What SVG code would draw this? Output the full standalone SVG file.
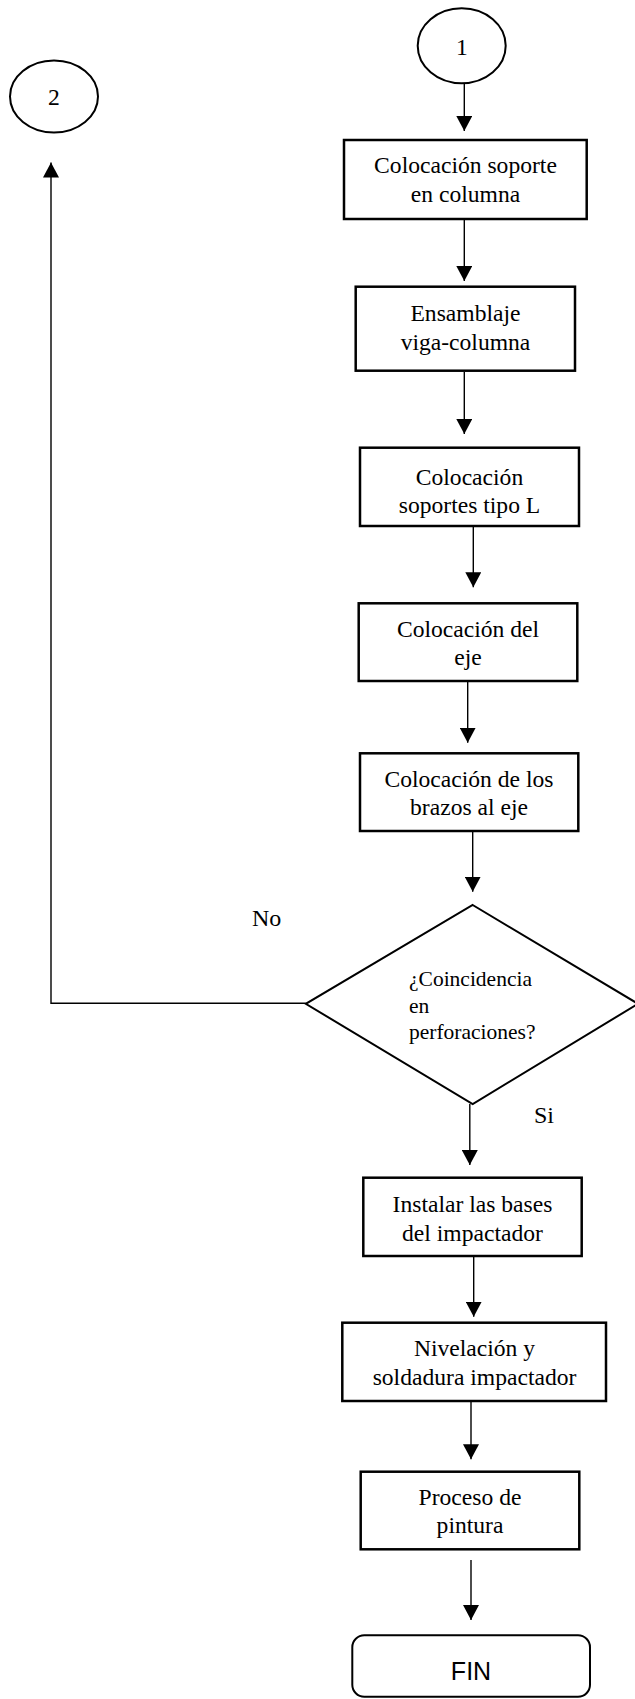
<svg xmlns="http://www.w3.org/2000/svg" width="635" height="1699" viewBox="0 0 635 1699">
  <style>
    .box { fill: #ffffff; stroke: #000000; stroke-width: 2.5; }
    .term { fill: #ffffff; stroke: #000000; stroke-width: 2; }
    .conn { fill: none; stroke: #000000; stroke-width: 1.4; }
    .t { font-family: "Liberation Serif", "Times New Roman", serif; font-size: 23.6px; fill: #000000; text-anchor: middle; }
    .q { font-family: "Liberation Serif", "Times New Roman", serif; font-size: 21.5px; fill: #000000; }
    .lbl { font-family: "Liberation Serif", "Times New Roman", serif; font-size: 24px; fill: #000000; }
    .fin { font-family: "Liberation Sans", Arial, sans-serif; font-size: 25px; fill: #000000; text-anchor: middle; }
  </style>
  <defs>
    <marker id="arrow" markerUnits="userSpaceOnUse" markerWidth="16" markerHeight="16" refX="15" refY="8" orient="auto">
      <path d="M0,0 L15,8 L0,16 z" fill="#000000"/>
    </marker>
  </defs>
  <rect width="635" height="1699" fill="#ffffff"/>

  <!-- connectors -->
  <g id="connectors">
    <line class="conn" x1="464.3" y1="83.3" x2="464.3" y2="131" marker-end="url(#arrow)"/>
    <line class="conn" x1="464.3" y1="219" x2="464.3" y2="281" marker-end="url(#arrow)"/>
    <line class="conn" x1="464.3" y1="372" x2="464.3" y2="434" marker-end="url(#arrow)"/>
    <line class="conn" x1="473.3" y1="526" x2="473.3" y2="587.3" marker-end="url(#arrow)"/>
    <line class="conn" x1="467.7" y1="681" x2="467.7" y2="742.7" marker-end="url(#arrow)"/>
    <line class="conn" x1="472.7" y1="831" x2="472.7" y2="891.7" marker-end="url(#arrow)"/>
    <line class="conn" x1="469.8" y1="1104" x2="469.8" y2="1165" marker-end="url(#arrow)"/>
    <line class="conn" x1="473.7" y1="1256" x2="473.7" y2="1316.7" marker-end="url(#arrow)"/>
    <line class="conn" x1="471" y1="1401" x2="471" y2="1459.3" marker-end="url(#arrow)"/>
    <line class="conn" x1="471" y1="1560" x2="471" y2="1620" marker-end="url(#arrow)"/>
    <polyline class="conn" points="305.8,1003.3 51,1003.3 51,162.5" marker-end="url(#arrow)"/>
    <text class="lbl" x="252" y="926">No</text>
    <text class="lbl" x="534" y="1123.3">Si</text>
  </g>

  <!-- connector 1 -->
  <g id="start1">
    <ellipse class="term" cx="461.7" cy="45.8" rx="44" ry="37.5"/>
    <text class="t" x="462" y="54.5">1</text>
  </g>

  <!-- connector 2 -->
  <g id="start2">
    <ellipse class="term" cx="54" cy="96.5" rx="44" ry="36"/>
    <text class="t" x="54" y="105">2</text>
  </g>

  <g id="step1">
    <rect class="box" x="344" y="140" width="242.7" height="79"/>
    <text class="t" x="465.5" y="173.3">Colocación soporte</text>
    <text class="t" x="465.5" y="201.7">en columna</text>
  </g>

  <g id="step2">
    <rect class="box" x="355.7" y="286.7" width="219.3" height="84"/>
    <text class="t" x="465.5" y="321">Ensamblaje</text>
    <text class="t" x="465.5" y="349.5">viga-columna</text>
  </g>

  <g id="step3">
    <rect class="box" x="360" y="447.7" width="219" height="78.3"/>
    <text class="t" x="469.5" y="484.7">Colocación</text>
    <text class="t" x="469.5" y="512.7">soportes tipo L</text>
  </g>

  <g id="step4">
    <rect class="box" x="358.7" y="603.3" width="218.6" height="77.7"/>
    <text class="t" x="468" y="637">Colocación del</text>
    <text class="t" x="468" y="665">eje</text>
  </g>

  <g id="step5">
    <rect class="box" x="360" y="753.3" width="218.3" height="77.7"/>
    <text class="t" x="469" y="786.7">Colocación de los</text>
    <text class="t" x="469" y="815">brazos al eje</text>
  </g>

  <g id="decision">
    <polygon class="term" points="472.7,905 638,1003.8 472.7,1104 305.8,1003.8"/>
    <text class="q" x="409" y="986">¿Coincidencia</text>
    <text class="q" x="409" y="1012.7">en</text>
    <text class="q" x="409" y="1039.3">perforaciones?</text>
  </g>

  <g id="step6">
    <rect class="box" x="363.3" y="1177.7" width="218.4" height="78.3"/>
    <text class="t" x="472.5" y="1212">Instalar las bases</text>
    <text class="t" x="472.5" y="1240.7">del impactador</text>
  </g>

  <g id="step7">
    <rect class="box" x="342.3" y="1322.7" width="263.7" height="78.3"/>
    <text class="t" x="474.5" y="1356">Nivelación y</text>
    <text class="t" x="474.5" y="1385">soldadura impactador</text>
  </g>

  <g id="step8">
    <rect class="box" x="360.7" y="1471.7" width="218.6" height="77.6"/>
    <text class="t" x="470" y="1505">Proceso de</text>
    <text class="t" x="470" y="1533.3">pintura</text>
  </g>

  <g id="end">
    <rect class="term" x="352.3" y="1635.3" width="237.7" height="61.5" rx="12" ry="12"/>
    <text class="fin" x="471" y="1680">FIN</text>
  </g>
</svg>
